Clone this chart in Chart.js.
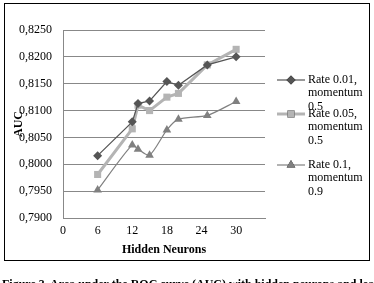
<!DOCTYPE html>
<html>
<head>
<meta charset="utf-8">
<script src="https://cdn.jsdelivr.net/npm/chart.js@4/dist/chart.umd.min.js"></script>
<style>
  html, body { margin: 0; padding: 0; background: #fff; overflow: hidden; }
  #wrap { position: relative; width: 374px; height: 283px; }
  #box { position: absolute; left: 4px; top: 3px; width: 364px; height: 256px; border: 1.5px solid #000; }
  #c { position: absolute; left: 0; top: 0; }
  #cap { position: absolute; left: 2px; top: 277px; font: bold 12px "Liberation Serif", serif; white-space: nowrap; color: #000; }
</style>
</head>
<body>
<div id="wrap">
  <div id="box"></div>
  <canvas id="c" width="374" height="283"></canvas>
  <div id="cap">Figure 3. Area under the ROC curve (AUC) with hidden neurons and learning rates</div>
</div>
<script>
// datos
const neurons = [6, 12, 13, 15, 18, 20, 25, 30];
const rate001 = [0.8016, 0.8079, 0.8113, 0.8118, 0.8154, 0.8147, 0.8185, 0.8200];
const rate005 = [0.7981, 0.8066, 0.8110, 0.8100, 0.8125, 0.8132, 0.8185, 0.8214];
const rate01  = [0.7952, 0.8036, 0.8028, 0.8017, 0.8064, 0.8084, 0.8091, 0.8117];
const seriesNames = [
  ['Rate 0.01,', 'momentum', '0.5'],
  ['Rate 0.05,', 'momentum', '0.5'],
  ['Rate 0.1,', 'momentum', '0.9']
];
const xTicks = [0, 6, 12, 18, 24, 30];

const serif = '"Liberation Serif", "Times New Roman", serif';

function pts(vals) {
  return neurons.map((n, i) => ({ x: n, y: vals[i] }));
}

// leyenda a la derecha, dibujada en el canvas
const legendPlugin = {
  id: 'sideLegend',
  afterDraw(chart) {
    const ctx = chart.ctx;
    const rows = [80, 114, 165];
    chart.data.datasets.forEach((ds, i) => {
      const y = rows[i];
      ctx.save();
      ctx.strokeStyle = ds.borderColor;
      ctx.lineWidth = ds.borderWidth;
      ctx.beginPath();
      ctx.moveTo(277, y);
      ctx.lineTo(305, y);
      ctx.stroke();
      Chart.helpers.drawPoint(ctx, {
        pointStyle: ds.pointStyle,
        radius: ds.pointRadius,
        rotation: 0,
        borderWidth: 0
      }, 291, y);
      ctx.fillStyle = ds.pointBackgroundColor;
      ctx.fill();
      ctx.fillStyle = '#000';
      ctx.font = '12px ' + serif;
      ctx.textBaseline = 'middle';
      seriesNames[i].forEach((t, k) => ctx.fillText(t, 308, y + k * 13.3));
      ctx.restore();
    });
  }
};

new Chart(document.getElementById('c'), {
  type: 'line',
  data: {
    datasets: [
      {
        label: seriesNames[0].join(' '),
        data: pts(rate001),
        borderColor: '#555555',
        backgroundColor: '#555555',
        pointBackgroundColor: '#555555',
        pointBorderWidth: 0,
        borderWidth: 1.2,
        pointStyle: 'rectRot',
        pointRadius: 4.5,
        tension: 0
      },
      {
        label: seriesNames[1].join(' '),
        data: pts(rate005),
        borderColor: '#b4b4b4',
        backgroundColor: '#b4b4b4',
        pointBackgroundColor: '#b4b4b4',
        pointBorderWidth: 0,
        borderWidth: 3,
        pointStyle: 'rect',
        pointRadius: 5,
        tension: 0
      },
      {
        label: seriesNames[2].join(' '),
        data: pts(rate01),
        borderColor: '#808080',
        backgroundColor: '#808080',
        pointBackgroundColor: '#808080',
        pointBorderWidth: 0,
        borderWidth: 1.2,
        pointStyle: 'triangle',
        pointRadius: 5,
        tension: 0.25
      }
    ]
  },
  options: {
    responsive: false,
    animation: false,
    layout: { padding: { left: 4, top: 30, right: 109, bottom: 26 } },
    plugins: { legend: { display: false }, tooltip: { enabled: false } },
    scales: {
      x: {
        type: 'linear',
        min: 0,
        max: 35,
        afterBuildTicks(s) { s.ticks = xTicks.map(v => ({ value: v })); },
        afterFit(s) { s.height = 39; },
        grid: { display: false, drawTicks: false },
        border: { display: true, color: '#888888', width: 1 },
        ticks: { color: '#000', font: { family: serif, size: 12 }, padding: 6, maxRotation: 0 },
        title: { display: true, text: 'Hidden Neurons', color: '#000', font: { family: serif, size: 12, weight: 'bold' }, padding: { top: 0, bottom: 0 } }
      },
      y: {
        min: 0.79,
        max: 0.825,
        afterFit(s) { s.width = 59; },
        grid: { color: '#888888', lineWidth: 1, drawTicks: false },
        border: { display: true, color: '#888888', width: 1 },
        ticks: {
          stepSize: 0.005,
          color: '#000',
          padding: 11,
          font: { family: serif, size: 12 },
          callback: v => v.toFixed(4).replace('.', ',')
        },
        title: { display: true, text: 'AUC', color: '#000', font: { family: serif, size: 12, weight: 'bold' }, padding: { top: 8, bottom: 0 } }
      }
    }
  },
  plugins: [legendPlugin]
});
</script>
</body>
</html>
